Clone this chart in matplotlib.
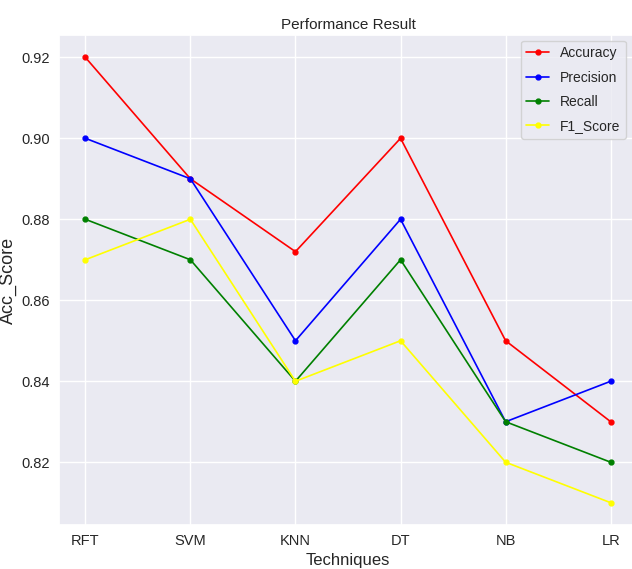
import numpy as np
import matplotlib
matplotlib.use("Agg")
from matplotlib import pyplot as plt
import seaborn as sns

sns.set_theme(style="darkgrid")
plt.rcParams['font.family'] = ['Liberation Sans', 'DejaVu Sans']

techniques = ["RFT", "SVM", "KNN", "DT", "NB", "LR"]
accuracy = [0.92, 0.89, 0.872, 0.90, 0.85, 0.83]
precision = [0.90, 0.89, 0.85, 0.88, 0.83, 0.84]
recall = [0.88, 0.87, 0.84, 0.87, 0.83, 0.82]
f1_score = [0.87, 0.88, 0.84, 0.85, 0.82, 0.81]

fig = plt.figure(figsize=(6.32, 5.69), dpi=100)
ax = fig.add_axes([59/632, 1-525/569, 578/632, 490/569])

ax.plot(techniques, accuracy, color='red', marker='o', markersize=3.5, lw=1.2, label='Accuracy')
ax.plot(techniques, precision, color='blue', marker='o', markersize=3.5, lw=1.2, label='Precision')
ax.plot(techniques, recall, color='green', marker='o', markersize=3.5, lw=1.2, label='Recall')
ax.plot(techniques, f1_score, color='yellow', marker='o', markersize=3.5, lw=1.2, label='F1_Score')

ax.set_yticks([0.82, 0.84, 0.86, 0.88, 0.90, 0.92])
ax.tick_params(labelsize=10.5, length=0, pad=6.5)
ax.set_title("Performance Result", fontsize=11, pad=4)
ax.set_xlabel("Techniques", fontsize=12, labelpad=3.5)
ax.set_ylabel("Acc_Score", fontsize=13)
ax.yaxis.set_label_coords(-0.072, 0.5)
ax.legend(loc='upper right', fontsize=10, handlelength=1.6, labelspacing=0.75,
          borderaxespad=0.4, bbox_to_anchor=(0.99, 1.0))

fig.savefig("out.png", dpi=100)
